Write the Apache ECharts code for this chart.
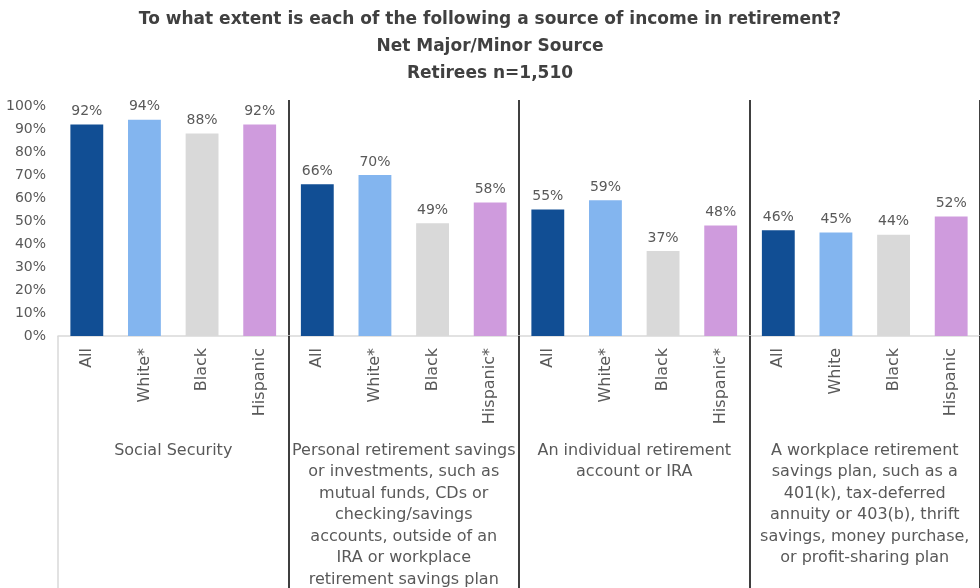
<!DOCTYPE html>
<html>
<head>
<meta charset="utf-8">
<script src="https://cdn.jsdelivr.net/npm/echarts@6/dist/echarts.min.js"></script>
<style>
  html, body { margin: 0; padding: 0; background: #fff; }
  #main { width: 980px; height: 588px; }
</style>
</head>
<body>
<div id="main"></div>
<script>
// 数据
const groups = [
  'Social Security',
  'Personal retirement savings\nor investments, such as\nmutual funds, CDs or\nchecking/savings\naccounts, outside of an\nIRA or workplace\nretirement savings plan',
  'An individual retirement\naccount or IRA',
  'A workplace retirement\nsavings plan, such as a\n401(k), tax-deferred\nannuity or 403(b), thrift\nsavings, money purchase,\nor profit-sharing plan'
];
const categories = [
  'All', 'White*', 'Black', 'Hispanic',
  'All', 'White*', 'Black', 'Hispanic*',
  'All', 'White*', 'Black', 'Hispanic*',
  'All', 'White', 'Black', 'Hispanic'
];
const values = [
  92, 94, 88, 92,
  66, 70, 49, 58,
  55, 59, 37, 48,
  46, 45, 44, 52
];
const colors = ['#114e94', '#83b5ef', '#d9d9d9', '#cf9bdd'];

const font = 'DejaVu Sans';
const gray = '#595959';

const chart = echarts.init(document.getElementById('main'));

const option = {
  title: {
    text: 'To what extent is each of the following a source of income in retirement?\nNet Major/Minor Source\nRetirees n=1,510',
    left: 'center',
    top: 1,
    textStyle: {
      fontFamily: font,
      fontSize: 17,
      fontWeight: 'bold',
      color: '#404040',
      lineHeight: 27
    }
  },
  grid: {
    left: 58, right: 0, top: 100, bottom: 252,
    containLabel: false,
    outerBoundsMode: 'none'
  },
  xAxis: [
    {
      type: 'category',
      data: categories,
      axisLine: { lineStyle: { color: '#d9d9d9', width: 1.5 } },
      axisTick: {
        show: true,
        length: 252,
        interval: (i) => i === 0,
        lineStyle: { color: '#d9d9d9', width: 1.5 }
      },
      axisLabel: {
        interval: 0,
        rotate: 90,
        margin: 12,
        fontFamily: font,
        fontSize: 16,
        color: gray
      }
    },
    {
      type: 'category',
      data: groups,
      position: 'bottom',
      axisLine: { show: false },
      axisTick: {
        show: true,
        length: 252,
        interval: (i) => i !== 0,
        lineStyle: { color: '#000', width: 1.5 }
      },
      splitLine: {
        show: true,
        interval: (i) => i !== 0,
        lineStyle: { color: '#000', width: 1.5 }
      },
      axisLabel: {
        interval: 0,
        margin: 104,
        align: 'center',
        lineHeight: 21.5,
        fontFamily: font,
        fontSize: 16,
        color: gray
      }
    }
  ],
  yAxis: {
    type: 'value',
    min: 0,
    max: 102.6,
    interval: 10,
    splitLine: { show: false },
    axisLine: { show: false },
    axisTick: { show: false },
    axisLabel: {
      margin: 12,
      fontFamily: font,
      fontSize: 14,
      color: gray,
      formatter: (v) => (v > 100 ? '' : v + '%')
    }
  },
  series: [
    {
      type: 'bar',
      xAxisIndex: 0,
      barCategoryGap: '43%',
      data: values.map((v, i) => ({
        value: v,
        itemStyle: { color: colors[i % 4] }
      })),
      label: {
        show: true,
        position: 'top',
        distance: 6,
        fontFamily: font,
        fontSize: 14,
        color: gray,
        formatter: (p) => p.value + '%'
      }
    }
  ]
};

chart.setOption(option);
</script>
</body>
</html>
